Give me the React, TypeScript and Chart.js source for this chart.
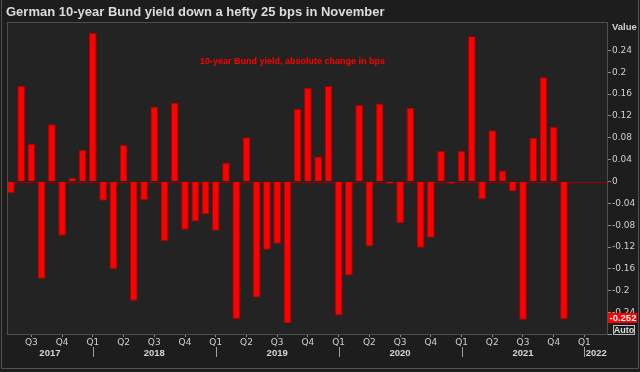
import React, { useEffect, useRef } from "react";
import { Chart, registerables } from "chart.js";

Chart.register(...registerables);

// Monthly change of the German 10-year Bund yield (absolute, in percentage points)
// First bar = May 2017, last bar = Nov 2021
const startYear = 2017;
const startMonth = 4; // 0-based, May
const values: number[] = [
  -0.021, 0.175, 0.069, -0.178, 0.105, -0.099, 0.007, 0.058, 0.272, -0.035,
  -0.16, 0.067, -0.218, -0.034, 0.137, -0.109, 0.144, -0.088, -0.073, -0.06,
  -0.09, 0.034, -0.252, 0.081, -0.212, -0.125, -0.114, -0.259, 0.133, 0.171,
  0.046, 0.175, -0.245, -0.172, 0.14, -0.119, 0.143, -0.004, -0.076, 0.135,
  -0.121, -0.103, 0.056, -0.004, 0.056, 0.266, -0.033, 0.094, 0.02, -0.018,
  -0.253, 0.08, 0.191, 0.1, -0.252,
];
const yTicks: number[] = [-0.24, -0.2, -0.16, -0.12, -0.08, -0.04, 0, 0.04, 0.08, 0.12, 0.16, 0.2, 0.24];
const quarterTickIdx: number[] = [2, 5, 8, 11, 14, 17, 20, 23, 26, 29, 32, 35, 38, 41, 44, 47, 50, 53, 56];
const years: number[] = [2017, 2018, 2019, 2020, 2021, 2022];
const titleText = "German 10-year Bund yield down a hefty 25 bps in November";
const noteText = "10-year Bund yield, absolute change in bps";
const lastValueText = "-0.252";

const X_MIN = -0.38;
const X_MAX = 58.3;

function monthOf(i: number) {
  return (startMonth + i) % 12;
}
function janIndex(y: number) {
  return (y - startYear) * 12 - startMonth;
}

const decorPlugin = {
  id: "decor",
  beforeDraw(chart: any) {
    const { ctx, chartArea: a, width, height } = chart;
    ctx.save();
    ctx.fillStyle = "#1d1d1d";
    ctx.fillRect(0, 0, width, height);
    ctx.fillStyle = "#232323";
    ctx.fillRect(a.left, a.top, a.right - a.left, a.bottom - a.top);
    ctx.restore();
  },
  beforeDatasetsDraw(chart: any) {
    const { ctx, chartArea: a } = chart;
    const y0 = Math.round(chart.scales.y.getPixelForValue(0)) + 0.5;
    ctx.save();
    ctx.strokeStyle = "#9a0000";
    ctx.lineWidth = 1;
    ctx.beginPath();
    ctx.moveTo(a.left, y0);
    ctx.lineTo(a.right, y0);
    ctx.stroke();
    ctx.restore();
  },
  afterDraw(chart: any) {
    const { ctx, chartArea: a, width, height } = chart;
    const xs = chart.scales.x;
    const ys = chart.scales.y;
    ctx.save();
    // plot border
    ctx.strokeStyle = "#4e4e4e";
    ctx.lineWidth = 1;
    ctx.strokeRect(a.left + 0.5, a.top + 0.5, a.right - a.left - 1, a.bottom - a.top);
    // outer frame
    ctx.strokeStyle = "#505050";
    ctx.beginPath();
    ctx.moveTo(1.5, 0);
    ctx.lineTo(1.5, height - 3.5);
    ctx.lineTo(width - 1.5, height - 3.5);
    ctx.lineTo(width - 1.5, 0);
    ctx.stroke();

    // title
    ctx.fillStyle = "#dcdcdc";
    ctx.font = "bold 13px 'Liberation Sans', Arial, sans-serif";
    ctx.textBaseline = "middle";
    ctx.textAlign = "left";
    ctx.fillText(titleText, 6, 12);

    // note
    ctx.fillStyle = "#ff0000";
    ctx.font = "bold 9px 'Liberation Sans', Arial, sans-serif";
    ctx.fillText(noteText, 200, 62);

    // "Value" header
    ctx.fillStyle = "#cfcfcf";
    ctx.font = "bold 9.5px 'Liberation Sans', Arial, sans-serif";
    ctx.fillText("Value", 612, 27);

    // year ticks and labels
    ctx.strokeStyle = "#a0a0a0";
    ctx.beginPath();
    years.forEach((y) => {
      const j = janIndex(y);
      if (j > X_MIN && j < X_MAX) {
        const px = Math.round(xs.getPixelForValue(j)) + 0.5;
        ctx.moveTo(px, 347);
        ctx.lineTo(px, 357);
      }
    });
    ctx.stroke();
    ctx.fillStyle = "#d6d6d6";
    ctx.font = "bold 9.5px 'Liberation Sans', Arial, sans-serif";
    ctx.textAlign = "center";
    years.forEach((y) => {
      const s = Math.max(X_MIN, janIndex(y));
      const e = Math.min(X_MAX, janIndex(y + 1));
      if (e <= s) return;
      const cx = (xs.getPixelForValue(s) + xs.getPixelForValue(e)) / 2;
      ctx.fillText(String(y), cx, 353);
    });

    // last value marker
    const lv = values[values.length - 1];
    const py = Math.round(ys.getPixelForValue(lv));
    ctx.fillStyle = "#ff0000";
    ctx.fillRect(a.right, py - 6, 29, 10);
    ctx.fillStyle = "#ffffff";
    ctx.font = "bold 9.5px 'Liberation Sans', Arial, sans-serif";
    ctx.textAlign = "left";
    ctx.fillText(lastValueText, a.right + 1.5, py - 0.5);

    // Auto box
    ctx.fillStyle = "#1d1d1d";
    ctx.fillRect(613, 325, 21, 9);
    ctx.strokeStyle = "#bdbdbd";
    ctx.strokeRect(613.5, 325.5, 21, 9);
    ctx.fillStyle = "#dddddd";
    ctx.font = "bold 9px 'Liberation Sans', Arial, sans-serif";
    ctx.textAlign = "center";
    ctx.fillText("Auto", 624, 330.5);
    ctx.strokeStyle = "#9a9a9a";
    ctx.beginPath();
    ctx.moveTo(a.right, a.bottom + 0.5);
    ctx.lineTo(a.right + 4, a.bottom + 0.5);
    ctx.stroke();
    ctx.restore();
  },
};

export default function App() {
  const ref = useRef<HTMLCanvasElement | null>(null);
  useEffect(() => {
    if (!ref.current) return;
    const chart = new Chart(ref.current, {
      type: "bar",
      data: {
        datasets: [
          {
            data: values.map((v, i) => ({ x: i, y: v })),
            backgroundColor: "#ff0000",
            borderColor: "#b00000",
            borderWidth: 1,
            barPercentage: 0.75,
            categoryPercentage: 1,
          },
        ],
      },
      options: {
        responsive: false,
        animation: false,
        layout: { padding: { left: 7, top: 22, right: 0, bottom: 0 } },
        plugins: { legend: { display: false }, tooltip: { enabled: false }, title: { display: false } },
        scales: {
          x: {
            type: "linear",
            min: X_MIN,
            max: X_MAX,
            offset: false,
            afterBuildTicks: (scale: any) => {
              scale.ticks = quarterTickIdx.map((v) => ({ value: v }));
            },
            afterFit: (scale: any) => {
              scale.height = 38;
            },
            ticks: {
              autoSkip: false,
              maxRotation: 0,
              padding: 0,
              color: "#cfcfcf",
              font: { family: "'DejaVu Sans', sans-serif", size: 9 },
              callback: (v: any) => "Q" + (Math.floor(monthOf(Number(v)) / 3) + 1),
            },
            grid: { drawOnChartArea: false, drawTicks: true, tickLength: 3, color: "#8a8a8a", offset: false },
            border: { display: false },
          },
          y: {
            position: "right",
            min: -0.279,
            max: 0.292,
            afterBuildTicks: (scale: any) => {
              scale.ticks = yTicks.map((v) => ({ value: v }));
            },
            afterFit: (scale: any) => {
              scale.width = 32;
            },
            ticks: {
              padding: 1,
              color: "#cfcfcf",
              font: { family: "'DejaVu Sans', sans-serif", size: 9 },
              callback: (v: any) => String(parseFloat(Number(v).toFixed(2))),
            },
            grid: { drawOnChartArea: false, drawTicks: true, tickLength: 3, color: "#8a8a8a" },
            border: { display: false },
          },
        },
      },
      plugins: [decorPlugin],
    } as any);
    return () => chart.destroy();
  }, []);
  return (
    <div style={{ position: "fixed", left: 0, top: 0, width: 640, height: 372 }}>
      <canvas ref={ref} width={640} height={372} />
    </div>
  );
}
